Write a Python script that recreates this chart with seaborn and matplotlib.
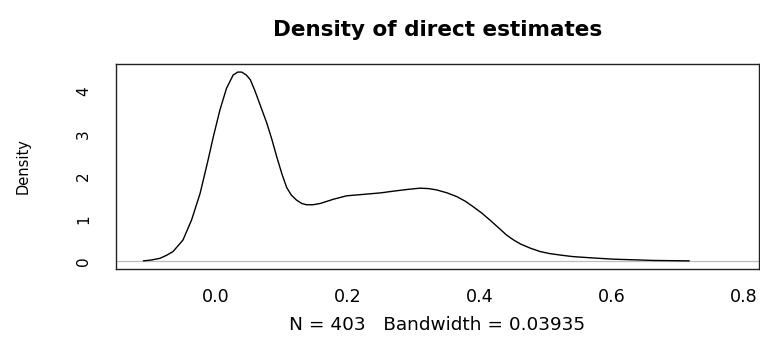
import matplotlib
import pandas as pd
import seaborn as sns

matplotlib.use("Agg")

import matplotlib.pyplot as plt

TITLE = "Density of direct estimates"
X_LABEL = "N = 403   Bandwidth = 0.03935"
Y_LABEL = "Density"

# density curve
estimate = [
    -0.110, -0.098, -0.085, -0.075, -0.065, -0.050, -0.037, -0.024, -0.012, -0.004,
    0.006, 0.016, 0.026, 0.033, 0.039, 0.046, 0.052, 0.058, 0.064, 0.077,
    0.085, 0.092, 0.100, 0.107, 0.114, 0.122, 0.130, 0.137, 0.147, 0.158,
    0.178, 0.198, 0.228, 0.250, 0.269, 0.290, 0.309, 0.322, 0.334, 0.350,
    0.365, 0.378, 0.390, 0.403, 0.415, 0.428, 0.440, 0.451, 0.461, 0.476,
    0.491, 0.506, 0.525, 0.541, 0.570, 0.602, 0.633, 0.663, 0.690, 0.717,
]
density = [
    0.01, 0.03, 0.07, 0.14, 0.23, 0.50, 0.97, 1.60, 2.38, 2.93,
    3.56, 4.07, 4.38, 4.45, 4.45, 4.38, 4.27, 4.05, 3.80, 3.25,
    2.85, 2.46, 2.05, 1.74, 1.56, 1.44, 1.36, 1.33, 1.33, 1.36,
    1.46, 1.54, 1.58, 1.61, 1.65, 1.69, 1.72, 1.71, 1.68, 1.61,
    1.52, 1.41, 1.28, 1.13, 0.97, 0.79, 0.62, 0.50, 0.41, 0.31,
    0.23, 0.18, 0.14, 0.11, 0.08, 0.05, 0.035, 0.02, 0.015, 0.01,
]

x_ticks = [0.0, 0.2, 0.4, 0.6, 0.8]
x_tick_labels = ["0.0", "0.2", "0.4", "0.6", "0.8"]
y_ticks = [0, 1, 2, 3, 4]


def main() -> None:
    data = pd.DataFrame({"estimate": estimate, "density": density})

    sns.set_style("white")
    plt.rcParams["font.family"] = ["DejaVu Sans"]
    plt.rcParams["text.color"] = "black"

    fig = plt.figure(figsize=(7.6, 3.45), dpi=100)
    ax = fig.add_axes([0.1526, 0.2203, 0.8461, 0.5942])

    ax.axhline(0, color="#bebebe", lw=0.9, zorder=1)
    sns.lineplot(data=data, x="estimate", y="density", sort=False, estimator=None,
                 color="black", lw=1.0, ax=ax, zorder=2)

    ax.set_xlim(-0.1515, 0.8227)
    ax.set_ylim(-0.181, 4.64)
    ax.set_xticks(x_ticks)
    ax.set_xticklabels(x_tick_labels)
    ax.set_yticks(y_ticks)

    for spine in ax.spines.values():
        spine.set_visible(True)
        spine.set_color("#222222")
        spine.set_linewidth(1.0)

    ax.tick_params(axis="x", direction="out", length=7, width=1.0, pad=7,
                   labelsize=12.6, colors="#222222", labelcolor="black")
    ax.tick_params(axis="y", direction="out", length=9.5, width=1.0, pad=14,
                   labelsize=11, colors="#222222", labelcolor="black")
    plt.setp(ax.get_yticklabels(), rotation=90, va="center", ha="center")

    ax.set_xlabel(X_LABEL, fontsize=13.3, va="center", color="black")
    ax.xaxis.set_label_coords(0.5, -0.273)
    ax.set_ylabel(Y_LABEL, fontsize=10.5, va="center", color="black")
    ax.yaxis.set_label_coords(-0.145, 0.5)
    ax.set_title(TITLE, fontsize=15.5, fontweight="bold", y=1.166, va="center",
                 pad=0, color="black")

    fig.savefig("out.png", dpi=100)
    plt.close(fig)


if __name__ == "__main__":
    main()
